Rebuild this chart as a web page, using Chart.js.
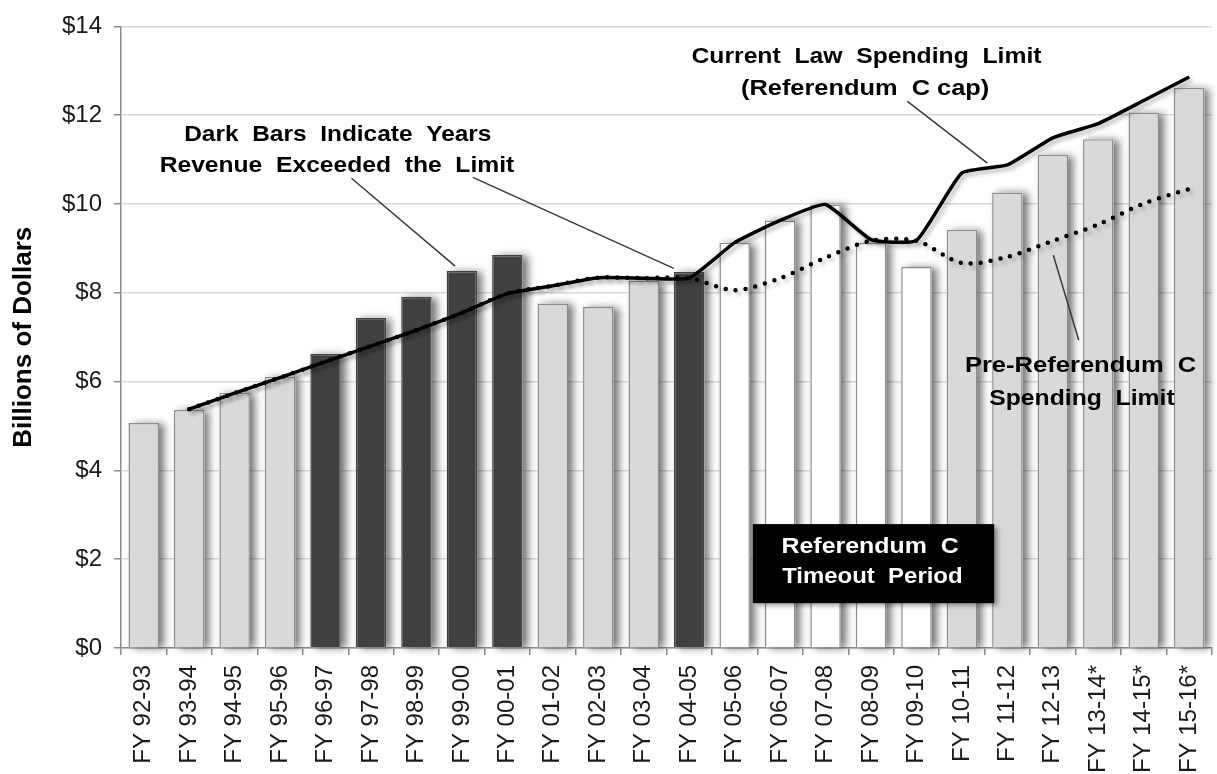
<!DOCTYPE html>
<html>
<head>
<meta charset="utf-8">
<script src="https://cdn.jsdelivr.net/npm/chart.js@4/dist/chart.umd.min.js"></script>
<style>
  html, body { margin: 0; padding: 0; background: #ffffff; overflow: hidden; }
  #wrap { position: absolute; left: 0; top: 0; width: 1228px; height: 774px; }
</style>
</head>
<body>
<div id="wrap"><canvas id="c"></canvas></div>
<script>
// ---------------- data ----------------
const categories = ['FY 92-93','FY 93-94','FY 94-95','FY 95-96','FY 96-97','FY 97-98','FY 98-99','FY 99-00',
  'FY 00-01','FY 01-02','FY 02-03','FY 03-04','FY 04-05','FY 05-06','FY 06-07','FY 07-08','FY 08-09',
  'FY 09-10','FY 10-11','FY 11-12','FY 12-13','FY 13-14*','FY 14-15*','FY 15-16*'];

const revenue = [5.07, 5.36, 5.75, 6.11, 6.63, 7.44, 7.91, 8.49, 8.85, 7.76, 7.68, 8.27, 8.47,
  9.13, 9.63, 9.99, 9.12, 8.58, 9.42, 10.26, 11.11, 11.46, 12.06, 12.62];

// 'exceeded' = revenue exceeded the limit, 'timeout' = Referendum C timeout period
const barStatus = ['normal','normal','normal','normal','exceeded','exceeded','exceeded','exceeded',
  'exceeded','normal','normal','normal','exceeded','timeout','timeout','timeout','timeout',
  'timeout','normal','normal','normal','normal','normal','normal'];

const currentLawLimit = [null, 5.38, 5.74, 6.09, 6.45, 6.80, 7.16, 7.55, 7.98, 8.16, 8.34, 8.33, 8.33,
  9.13, 9.63, 9.99, 9.20, 9.18, 10.70, 10.88, 11.49, 11.81, 12.33, 12.86];

const preRefCLimit = [null, 5.38, 5.74, 6.09, 6.45, 6.80, 7.16, 7.55, 7.98, 8.16, 8.34, 8.33, 8.33,
  8.06, 8.33, 8.79, 9.17, 9.17, 8.67, 8.81, 9.17, 9.54, 10.01, 10.34];

const yTickLabels = ['$0','$2','$4','$6','$8','$10','$12','$14'];
const yAxisTitle = 'Billions of Dollars';

// ---------------- styles ----------------
const FONT = '"Liberation Sans", Arial, sans-serif';
const fillFor = { normal: '#d9d9d9', exceeded: '#404040', timeout: '#ffffff' };
const borderFor = { normal: '#8c8c8c', exceeded: '#404040', timeout: '#8c8c8c' };

const shadowPlugin = {
  id: 'shadows',
  beforeDatasetDraw(chart, args) {
    const ctx = chart.ctx;
    const ds = chart.data.datasets[args.index];
    if (ds.type === 'line') {
      ctx.save();
      ctx.shadowColor = 'rgba(0,0,0,0.28)';
      ctx.shadowBlur = 4; ctx.shadowOffsetX = 3; ctx.shadowOffsetY = 3;
    } else {
      // draw a shadow under every bar before the bars themselves are painted
      const meta = chart.getDatasetMeta(args.index);
      ctx.save();
      ctx.shadowColor = 'rgba(0,0,0,0.55)';
      ctx.shadowBlur = 8; ctx.shadowOffsetX = 5; ctx.shadowOffsetY = 1;
      ctx.fillStyle = '#ffffff';
      meta.data.forEach(el => {
        const p = el.getProps(['x', 'y', 'base', 'width'], true);
        ctx.fillRect(p.x - p.width / 2, Math.min(p.y, p.base), p.width, Math.abs(p.base - p.y));
      });
      ctx.restore();
      ctx.save();
    }
  },
  afterDatasetDraw(chart) { chart.ctx.restore(); }
};

const annotationPlugin = {
  id: 'annotations',
  afterDraw(chart) {
    const { ctx, chartArea: a, scales: { y } } = chart;
    const cw = a.width / categories.length;
    const X = u => a.left + u * cw;
    const Y = v => y.getPixelForValue(v);
    ctx.save();
    // leader lines
    ctx.strokeStyle = '#3a3a3a';
    ctx.lineWidth = 1.5;
    const seg = (u1, v1, u2, v2) => {
      ctx.beginPath(); ctx.moveTo(X(u1), Y(v1)); ctx.lineTo(X(u2), Y(v2)); ctx.stroke();
    };
    seg(5.07, 10.58, 7.35, 8.60);
    seg(7.74, 10.60, 12.16, 8.55);
    seg(17.30, 12.31, 19.06, 10.92);
    seg(20.51, 8.85, 21.07, 6.93);

    // text helper: centred, stretched to a given width (category units)
    const txt = (s, u, v, wu, color) => {
      ctx.font = 'bold 22px ' + FONT;
      const w = ctx.measureText(s).width;
      const tw = wu * cw;
      ctx.save();
      ctx.translate(X(u), Y(v));
      ctx.scale(tw / w, 1);
      ctx.textAlign = 'center';
      ctx.textBaseline = 'alphabetic';
      ctx.fillStyle = color;
      ctx.fillText(s, 0, 0);
      ctx.restore();
    };
    txt('Dark  Bars  Indicate  Years', 4.77, 11.43, 6.76, '#000');
    txt('Revenue  Exceeded  the  Limit', 4.75, 10.71, 7.80, '#000');
    txt('Current  Law  Spending  Limit', 16.40, 13.17, 7.70, '#000');
    txt('(Referendum  C cap)', 16.37, 12.45, 5.46, '#000');
    txt('Pre-Referendum  C', 21.11, 6.21, 5.09, '#000');
    txt('Spending  Limit', 21.14, 5.47, 4.08, '#000');

    // black box
    ctx.save();
    ctx.shadowColor = 'rgba(0,0,0,0.4)';
    ctx.shadowBlur = 5; ctx.shadowOffsetX = 4; ctx.shadowOffsetY = 3;
    ctx.fillStyle = '#000';
    ctx.fillRect(X(13.90), Y(2.79), X(19.21) - X(13.90), Y(1.01) - Y(2.79));
    ctx.restore();
    txt('Referendum  C', 16.48, 2.14, 3.90, '#fff');
    txt('Timeout  Period', 16.53, 1.46, 3.97, '#fff');
    ctx.restore();
  }
};

new Chart(document.getElementById('c'), {
  type: 'bar',
  data: {
    labels: categories,
    datasets: [
      {
        type: 'line',
        label: 'Current Law Spending Limit (Referendum C cap)',
        data: currentLawLimit,
        borderColor: '#000',
        borderWidth: 3.5,
        pointRadius: 0,
        tension: 0.15,
        borderJoinStyle: 'round',
        order: 1
      },
      {
        type: 'line',
        label: 'Pre-Referendum C Spending Limit',
        data: preRefCLimit,
        borderColor: '#000',
        borderWidth: 4.5,
        borderDash: [0, 10],
        borderCapStyle: 'round',
        pointRadius: 0,
        tension: 0.3,
        order: 2
      },
      {
        type: 'bar',
        label: 'Revenue',
        data: revenue,
        backgroundColor: barStatus.map(s => fillFor[s]),
        borderColor: barStatus.map(s => borderFor[s]),
        borderWidth: 1.5,
        barPercentage: 0.67,
        categoryPercentage: 1.0,
        order: 3
      }
    ]
  },
  options: {
    responsive: true,
    maintainAspectRatio: false,
    devicePixelRatio: 1,
    animation: false,
    layout: { padding: { top: 26, right: 0, left: 0, bottom: 0 } },
    plugins: { legend: { display: false }, tooltip: { enabled: false } },
    scales: {
      x: {
        grid: { display: true, drawOnChartArea: false, drawTicks: true, tickLength: 7, color: '#8c8c8c', lineWidth: 1.5, offset: true },
        border: { display: true, color: '#8c8c8c', width: 1.5 },
        ticks: { minRotation: 90, maxRotation: 90, autoSkip: false, padding: 10, color: '#1a1a1a', font: { family: FONT, size: 24 } },
        afterFit(s) { s.height = 126; }
      },
      y: {
        min: 0, max: 14,
        ticks: { stepSize: 2, padding: 12, color: '#1a1a1a', font: { family: FONT, size: 24 },
                 callback: (v, i) => yTickLabels[i] },
        grid: { color: '#d9d9d9', lineWidth: 1.5, tickColor: '#8c8c8c', tickLength: 7 },
        border: { color: '#8c8c8c', width: 1.5 },
        title: { display: true, text: yAxisTitle, color: '#000', font: { family: FONT, size: 26, weight: 'bold' }, padding: { top: 8, bottom: 0 } },
        afterFit(s) { s.width = 121; }
      }
    }
  },
  plugins: [shadowPlugin, annotationPlugin]
});
</script>
</body>
</html>
